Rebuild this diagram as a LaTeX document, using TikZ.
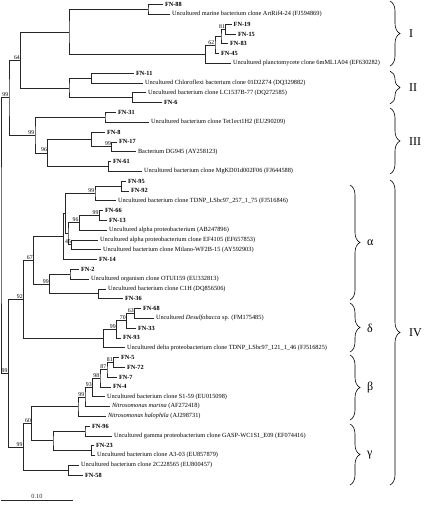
\documentclass[tikz,border=0pt]{standalone}
\usepackage{fontspec}
\setmainfont{Liberation Serif}
\usepackage{tikz}
\usetikzlibrary{decorations.pathreplacing}

\begin{document}
\begin{tikzpicture}[x=1pt,y=-1pt,
    branch/.style={line width=0.6pt, black!85},
    leaf/.style={anchor=west, inner sep=1.8pt, font=\fontsize{6.3}{7}\selectfont},
    fn/.style={leaf, font=\fontsize{6.3}{7}\selectfont\bfseries},
    boot/.style={anchor=south east, inner sep=0.6pt, font=\fontsize{5.8}{6}\selectfont},
    clade/.style={decorate, decoration={brace, amplitude=10pt}, line width=0.6pt},
    group/.style={anchor=west, inner sep=1pt, font=\fontsize{12}{13}\selectfont}]
\useasboundingbox (0,0) rectangle (426,508);

% group I
\node[fn]   (fn88)    at (163,4.6)   {FN-88};
\node[leaf] (artrif)  at (170,14.4)  {Uncultured marine bacterium clone ArtRif4-24 (FJ594869)};
\node[fn]   (fn19)    at (231.7,24.2) {FN-19};
\node[fn]   (fn15)    at (236,34)    {FN-15};
\node[fn]   (fn83)    at (228,43.8)  {FN-83};
\node[fn]   (fn45)    at (219,53.6)  {FN-45};
\node[leaf] (plancto) at (231,63.4)  {Uncultured planctomycete clone 6mML1A04 (EF630282)};
\coordinate (n88) at (148,9.5);
\coordinate (nA)  at (225.7,29.1);
\coordinate (nB)  at (221,36.45);
\coordinate (nC)  at (215,45.03);
\coordinate (nD)  at (205.7,54.21);
\coordinate (nE)  at (69,31.86);
\draw[branch] (fn88) -| (n88) |- (artrif);
\draw[branch] (fn19) -| (nA) |- (fn15);
\draw[branch] (nA) -| (nB) |- (fn83);
\draw[branch] (nB) -| (nC) |- (fn45);
\draw[branch] (nC) -| (nD) |- (plancto);
\draw[branch] (n88) -| (nE) |- (nD);
\node[boot] (b81) at (nA) {81};
\node[boot] (b62) at (nC) {62};

% group II
\node[fn]   (fn11)   at (134,73.2)  {FN-11};
\node[leaf] (chlor)  at (143,83)    {Uncultured Chloroflexi bacterium clone 01D2Z74 (DQ329882)};
\node[leaf] (lc1537) at (146,92.8)  {Uncultured bacterium clone LC1537B-77 (DQ272585)};
\node[fn]   (fn6)    at (162,102.6) {FN-6};
\coordinate (nF)  at (91.7,78.1);
\coordinate (nG)  at (132.7,97.7);
\coordinate (nH)  at (69,87.9);
\coordinate (n64) at (20.7,59.88);
\draw[branch] (fn11) -| (nF) |- (chlor);
\draw[branch] (lc1537) -| (nG) |- (fn6);
\draw[branch] (nF) -| (nH) |- (nG);
\draw[branch] (nE) -| (n64) |- (nH);
\node[boot] (b64) at (n64) {64};

% group III
\node[fn]   (fn31)  at (116,112.4) {FN-31};
\node[leaf] (tet1)  at (149,122.2) {Uncultured bacterium clone Tet1ect1H2 (EU290209)};
\node[fn]   (fn8)   at (105,132)   {FN-8};
\node[fn]   (fn17)  at (117,141.8) {FN-17};
\node[leaf] (dg945) at (136,151.6) {Bacterium DG945 (AY258123)};
\node[fn]   (fn61)  at (111,161.4) {FN-61};
\node[leaf] (mgkd)  at (142,171.2) {Uncultured bacterium clone MgKD01d002F06 (FJ644588)};
\coordinate (nJ)   at (105,117.3);
\coordinate (nK)   at (111.7,146.7);
\coordinate (nL)   at (91.7,139.35);
\coordinate (nM)   at (108.3,166.3);
\coordinate (nN)   at (47.7,152.83);
\coordinate (nP)   at (35,135.06);
\coordinate (n99a) at (9,97.47);
\draw[branch] (fn31) -| (nJ) |- (tet1);
\draw[branch] (fn17) -| (nK) |- (dg945);
\draw[branch] (fn8) -| (nL) |- (nK);
\draw[branch] (fn61) -| (nM) |- (mgkd);
\draw[branch] (nL) -| (nN) |- (nM);
\draw[branch] (nJ) -| (nP) |- (nN);
\draw[branch] (n64) -| (n99a) |- (nP);
\node[boot] (bK)   at (nK) {99};
\node[boot] (bN)   at (nN) {96};
\node[boot] (bP)   at (nP) {99};
\node[boot] (b99a) at (n99a) {99};

% alpha
\node[fn]   (fn95)   at (126,181)   {FN-95};
\node[fn]   (fn92)   at (129,190.8) {FN-92};
\node[leaf] (tdnpa)  at (116,200.6) {Uncultured bacterium clone TDNP\_LSbc97\_257\_1\_75 (FJ516846)};
\node[fn]   (fn66)   at (103,210.4) {FN-66};
\node[fn]   (fn13)   at (107,220.2) {FN-13};
\node[leaf] (ab2478) at (107,230)   {Uncultured alpha proteobacterium (AB247896)};
\node[leaf] (ef4105) at (98,239.8)  {Uncultured alpha proteobacterium clone EF4105 (EF657853)};
\node[leaf] (milano) at (101,249.6) {Uncultured bacterium clone Milano-WF2B-15 (AY592903)};
\node[fn]   (fn14)   at (97,259.4)  {FN-14};
\node[fn]   (fn2)    at (79,269.2)  {FN-2};
\node[leaf] (otu159) at (89,279)    {Uncultured organism clone OTUI159 (EU332813)};
\node[leaf] (c1h)    at (106,288.8) {Uncultured bacterium clone C1H (DQ856506)};
\node[fn]   (fn36)   at (123,298.6) {FN-36};
\coordinate (nQ)   at (121.7,185.9);
\coordinate (nR)   at (95,193.25);
\coordinate (nS)   at (99.3,215.3);
\coordinate (nT)   at (79.3,222.65);
\coordinate (nU)   at (71.7,244.7);
\coordinate (nV)   at (68,233.68);
\coordinate (nW)   at (65.5,213.46);
\coordinate (nAl)  at (63.3,236.43);
\coordinate (nX1)  at (70,274.1);
\coordinate (nX2)  at (98.3,293.7);
\coordinate (n99c) at (49.5,283.9);
\coordinate (n67)  at (33.5,260.17);
\draw[branch] (fn95) -| (nQ) |- (fn92);
\draw[branch] (nQ) -| (nR) |- (tdnpa);
\draw[branch] (fn66) -| (nS) |- (fn13);
\draw[branch] (nS) -| (nT) |- (ab2478);
\draw[branch] (ef4105) -| (nU) |- (milano);
\draw[branch] (nT) -| (nV) |- (nU);
\draw[branch] (nR) -| (nW) |- (nV);
\draw[branch] (nW) -| (nAl) |- (fn14);
\draw[branch] (fn2) -| (nX1) |- (otu159);
\draw[branch] (c1h) -| (nX2) |- (fn36);
\draw[branch] (nX1) -| (n99c) |- (nX2);
\draw[branch] (nAl) -| (n67) |- (n99c);
\node[boot] (bR)   at (nR) {99};
\node[boot] (bS)   at (nS) {99};
\node[boot] (bT)   at (nT) {96};
\node[boot] (bU)   at (nU) {45};
\node[boot] (b99c) at (n99c) {99};
\node[boot] (b67)  at (n67) {67};

% delta
\node[fn]   (fn68)   at (141,308.4) {FN-68};
\node[leaf] (desulf) at (154,318.2) {Uncultured \textit{Desulfobacca} sp. (FM175485)};
\node[fn]   (fn33)   at (136,328)   {FN-33};
\node[fn]   (fn93)   at (121,337.8) {FN-93};
\node[leaf] (tdnpb)  at (125,347.6) {Uncultured delta proteobacterium clone TDNP\_LSbc97\_121\_1\_46 (FJ516825)};
\coordinate (n63)  at (134.5,313.3);
\coordinate (n70)  at (126.5,320.65);
\coordinate (n99d) at (116.5,329.23);
\coordinate (nDel) at (103.3,338.41);
\coordinate (n92)  at (23.5,299.29);
\draw[branch] (fn68) -| (n63) |- (desulf);
\draw[branch] (n63) -| (n70) |- (fn33);
\draw[branch] (n70) -| (n99d) |- (fn93);
\draw[branch] (n99d) -| (nDel) |- (tdnpb);
\draw[branch] (n67) -| (n92) |- (nDel);
\node[boot] (b63)  at (n63) {63};
\node[boot] (b70)  at (n70) {70};
\node[boot] (b99d) at (n99d) {99};
\node[boot] (b92)  at (n92) {92};

% beta
\node[fn]   (fn5)     at (119,357.4) {FN-5};
\node[fn]   (fn72)    at (125,367.2) {FN-72};
\node[fn]   (fn7)     at (117,377)   {FN-7};
\node[fn]   (fn4)     at (111,386.8) {FN-4};
\node[leaf] (s159)    at (105,396.6) {Uncultured bacterium clone S1-59 (EU015098)};
\node[leaf] (nmarina) at (110,406.4) {\textit{Nitrosomonas marina} (AF272418)};
\node[leaf] (nhalo)   at (106,416.2) {\textit{Nitrosomonas halophila} (AJ298731)};
\coordinate (n81)   at (113.5,362.3);
\coordinate (n87)   at (107,369.65);
\coordinate (n98)   at (100,378.23);
\coordinate (n93)   at (92.5,387.41);
\coordinate (n99b)  at (85,396.9);
\coordinate (nBeta) at (78,406.55);
\draw[branch] (fn5) -| (n81) |- (fn72);
\draw[branch] (n81) -| (n87) |- (fn7);
\draw[branch] (n87) -| (n98) |- (fn4);
\draw[branch] (n98) -| (n93) |- (s159);
\draw[branch] (n93) -| (n99b) |- (nmarina);
\draw[branch] (n99b) -| (nBeta) |- (nhalo);
\node[boot] (b81b) at (n81) {81};
\node[boot] (b87)  at (n87) {87};
\node[boot] (b98)  at (n98) {98};
\node[boot] (b93)  at (n93) {93};
\node[boot] (b99b) at (n99b) {99};

% gamma
\node[fn]   (fn96)   at (90,426)    {FN-96};
\node[leaf] (gasp)   at (112,435.8) {Uncultured gamma proteobacterium clone GASP-WC1S1\_E09 (EF074416)};
\node[fn]   (fn23)   at (94,445.6)  {FN-23};
\node[leaf] (a303)   at (95,455.4)  {Uncultured bacterium clone A3-03 (EU857879)};
\node[leaf] (c2c228) at (79,465.2)  {Uncultured bacterium clone 2C228565 (EU800457)};
\node[fn]   (fn58)   at (83,475)    {FN-58};
\coordinate (nG1)  at (85,430.9);
\coordinate (nG2)  at (91.7,450.5);
\coordinate (nGam) at (53,440.7);
\coordinate (n60)  at (31.7,423.63);
\coordinate (nY)   at (68.3,470.1);
\coordinate (n99g) at (23.3,446.87);
\coordinate (nIV)  at (8.3,373.08);
\coordinate (root) at (1,235.3);
\draw[branch] (fn96) -| (nG1) |- (gasp);
\draw[branch] (fn23) -| (nG2) |- (a303);
\draw[branch] (nG1) -| (nGam) |- (nG2);
\draw[branch] (nBeta) -| (n60) |- (nGam);
\draw[branch] (c2c228) -| (nY) |- (fn58);
\draw[branch] (n60) -| (n99g) |- (nY);
\draw[branch] (n92) -| (nIV) |- (n99g);
\draw[branch] (n99a) -| (root) |- (nIV);
\node[boot] (b60)  at (n60) {60};
\node[boot] (b99g) at (n99g) {99};
\node[boot] (bIV)  at (nIV) {99};

% braces
\coordinate (bI1)   at (390,1);   \coordinate (bI2)   at (390,66);
\coordinate (bII1)  at (390,71);  \coordinate (bII2)  at (390,104);
\coordinate (bIII1) at (390,108); \coordinate (bIII2) at (390,174);
\coordinate (bIV1)  at (390,180); \coordinate (bIV2)  at (390,485);
\coordinate (bal1)  at (350,185); \coordinate (bal2)  at (350,300);
\coordinate (bde1)  at (350,303); \coordinate (bde2)  at (350,352);
\coordinate (bbe1)  at (350,355); \coordinate (bbe2)  at (350,420);
\coordinate (bga1)  at (350,424); \coordinate (bga2)  at (350,485);
\draw[clade] (bI1) -- (bI2);
\draw[clade] (bII1) -- (bII2);
\draw[clade] (bIII1) -- (bIII2);
\draw[clade] (bIV1) -- (bIV2);
\draw[clade] (bal1) -- (bal2);
\draw[clade] (bde1) -- (bde2);
\draw[clade] (bbe1) -- (bbe2);
\draw[clade] (bga1) -- (bga2);
\node[group] (gI)   at (408,34)    {I};
\node[group] (gII)  at (408,88)    {II};
\node[group] (gIII) at (408,141.5) {III};
\node[group] (gIV)  at (408,333)   {IV};
\node[group] (gal)  at (366,243)   {α};
\node[group] (gde)  at (366,328)   {δ};
\node[group] (gbe)  at (366,388)   {β};
\node[group] (gga)  at (366,455)   {γ};

% scale bar
\coordinate (sb1) at (1,500);
\coordinate (sb2) at (73,500);
\draw[branch] (sb1) -- node[above, inner sep=1.5pt, font=\fontsize{6.3}{7}\selectfont] (sbl) {0.10} (sb2);
\end{tikzpicture}
\end{document}
